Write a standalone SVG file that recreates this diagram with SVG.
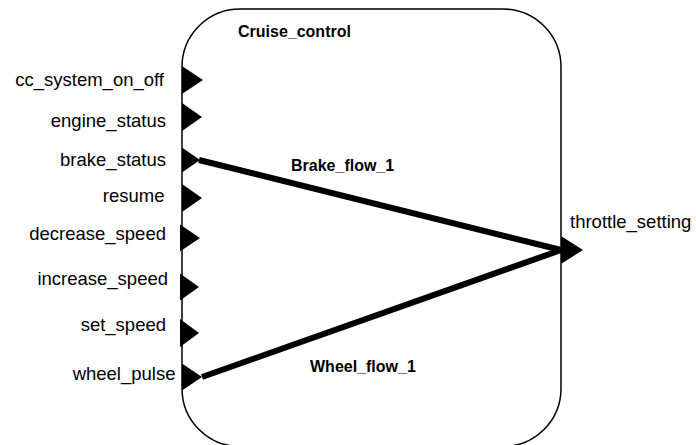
<svg xmlns="http://www.w3.org/2000/svg" xmlns:xlink="http://www.w3.org/1999/xlink" width="696" height="445" viewBox="0 0 696 445">
  <style>
    .box { fill: #ffffff; stroke: #000000; stroke-width: 1.5; }
    .port { fill: #000000; stroke: none; }
    .label { font-family: "Liberation Sans", Arial, sans-serif; font-size: 18.5px; fill: #000000; }
    .in { text-anchor: end; }
    .title { font-family: "Liberation Sans", Arial, sans-serif; font-size: 16px; font-weight: bold; fill: #000000; }
    .flow { fill: none; stroke: #000000; stroke-width: 6; stroke-linecap: butt; stroke-linejoin: miter; }
  </style>
  <defs>
    <!-- input/output port: triangle with its base on the block edge -->
    <path id="portShape" d="M0,-14 L20,0 L0,14 Z"/>
  </defs>

  <rect width="696" height="445" fill="#ffffff"/>

  <!-- block -->
  <g id="cruise_control">
    <rect class="box" x="182" y="9" width="379" height="437.5" rx="58" ry="58"/>
    <text class="title" x="238" y="37">Cruise_control</text>
  </g>

  <!-- data flows inside the block -->
  <g id="connectors">
    <g id="brake_flow_1">
      <polyline class="flow" points="199,160 561,250"/>
      <text class="title" x="291" y="171">Brake_flow_1</text>
    </g>
    <g id="wheel_flow_1">
      <polyline class="flow" points="202,377 561,250"/>
      <text class="title" x="310" y="372">Wheel_flow_1</text>
    </g>
  </g>

  <!-- input ports -->
  <g id="cc_system_on_off">
    <use xlink:href="#portShape" class="port" transform="translate(182,80) scale(1.05,1)"/>
    <text class="label in" x="164" y="86">cc_system_on_off</text>
  </g>
  <g id="engine_status">
    <use xlink:href="#portShape" class="port" transform="translate(182,117)"/>
    <text class="label in" x="166" y="126.5">engine_status</text>
  </g>
  <g id="brake_status">
    <use xlink:href="#portShape" class="port" transform="translate(182,160) scale(0.9,0.9)"/>
    <text class="label in" x="166" y="165.5">brake_status</text>
  </g>
  <g id="resume">
    <use xlink:href="#portShape" class="port" transform="translate(182,198)"/>
    <text class="label in" x="164.5" y="201.5">resume</text>
  </g>
  <g id="decrease_speed">
    <use xlink:href="#portShape" class="port" transform="translate(180,238) scale(1,0.97)"/>
    <text class="label in" x="166" y="240">decrease_speed</text>
  </g>
  <g id="increase_speed">
    <use xlink:href="#portShape" class="port" transform="translate(180,287) scale(0.95,0.97)"/>
    <text class="label in" x="168" y="285">increase_speed</text>
  </g>
  <g id="set_speed">
    <use xlink:href="#portShape" class="port" transform="translate(180,333) scale(0.95,1)"/>
    <text class="label in" x="166" y="331">set_speed</text>
  </g>
  <g id="wheel_pulse">
    <use xlink:href="#portShape" class="port" transform="translate(182,377) scale(1,0.97)"/>
    <text class="label in" x="175.5" y="380">wheel_pulse</text>
  </g>

  <!-- output port -->
  <g id="throttle_setting">
    <use xlink:href="#portShape" class="port" transform="translate(561,250) scale(1.1,1)"/>
    <text class="label" x="570" y="227.5">throttle_setting</text>
  </g>
</svg>
